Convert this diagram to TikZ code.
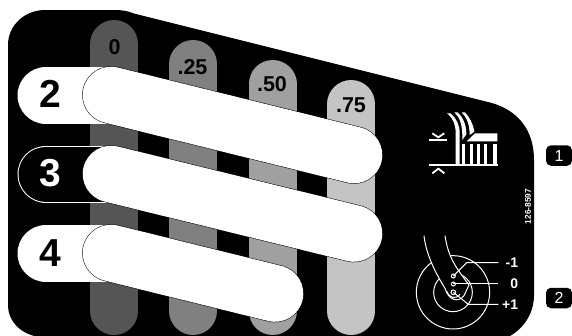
\documentclass[tikz,border=0pt]{standalone}
\usepackage{fontspec}
\setmainfont{Liberation Sans}
\definecolor{barA}{HTML}{555555}
\definecolor{barB}{HTML}{808080}
\definecolor{barC}{HTML}{A0A0A0}
\definecolor{barD}{HTML}{C4C4C4}
\tikzset{
  barshape/.style={line width=48pt,line cap=round},
  slant/.style={line width=56.6pt,line cap=round},
  slantedge/.style={line width=57.6pt,line cap=round,black},
  leftpill/.style={line width=57pt,line cap=round,white},
  barlabel/.style={font=\fontsize{21.5}{21.5}\selectfont\bfseries,text=black,inner sep=0pt},
  bignum/.style={font=\fontsize{39}{39}\selectfont\bfseries,inner sep=0pt},
  wheellabel/.style={font=\fontsize{14}{14}\selectfont\bfseries,text=white,inner sep=0pt,anchor=east},
  tag/.style={fill=black,rounded corners=5pt,minimum width=26pt,minimum height=20.5pt,inner sep=0pt,text=white,font=\fontsize{16}{16}\selectfont},
  wline/.style={draw=white,line width=1pt},
  wthick/.style={draw=white,line width=1.8pt},
}
\begin{document}
\begin{tikzpicture}[x=1pt,y=-1pt]
\useasboundingbox (0,0) rectangle (572,335);
\begin{scope}
\clip (0,0) rectangle (572,335);
% panel
\fill[black] (8,45) .. controls (8,25) and (25,10) .. (45,10) -- (115,10)
  .. controls (122,10) and (128,11) .. (134,13.5) -- (490,102.5)
  .. controls (518,110) and (534,130) .. (534,160) -- (534,295)
  .. controls (534,315) and (522,330) .. (508,337) -- (40,337)
  .. controls (22,335) and (8,322) .. (8,305) -- cycle;
% bars
\draw[barshape,barA] (114.3,44) -- (114.3,311);
\draw[barshape,barB] (193.2,64) -- (193.2,311);
\draw[barshape,barC] (272.5,84) -- (272.5,311);
\draw[barshape,barD] (351.3,104) -- (351.3,311);
\end{scope}
\node[barlabel] (l0) at (114.5,47.5) {0};
\node[barlabel] (l25) at (192.5,67.5) {.25};
\node[barlabel] (l50) at (272,84.5) {.50};
\node[barlabel] (l75) at (351,105) {.75};
% left pills
\draw[leftpill] (46,95.3) -- (110,95.3);
\draw[leftpill] (46,174) -- (110,174);
\draw[leftpill,black,line width=55pt] (46,174) -- (112,174);
\draw[leftpill] (46,253.4) -- (110,253.4);
\node[bignum,text=black] (n2) at (50.7,94) {2};
\node[bignum,text=white] (n3) at (50.7,173) {3};
\node[bignum,text=black] (n4) at (50.7,253.5) {4};
% slanted pills
\draw[slantedge] (111,95) -- (354,155);
\draw[slant,white] (111,95) -- (354,155);
\draw[slantedge] (111,174) -- (354,233.5);
\draw[slant,white] (111,174) -- (354,233.5);
\draw[slantedge] (111,253) -- (275,293.5);
\draw[slant,white] (111,253) -- (275,293.5);
% grass icon
\begin{scope}[shift={(425,105)},x=.3333pt,y=-.3333pt]
\draw[wthick] (12,180) -- (220,180);
\draw[wthick] (12,105) -- (65,105);
\draw[wthick] (22,85) -- (40,97) -- (58,85);
\draw[wthick] (22,205) -- (40,191) -- (58,205);
\fill[white] (66,25) .. controls (85,40) and (92,60) .. (92,85) -- (92,180) -- (104,180) -- (104,85) .. controls (104,60) and (95,40) .. (76,25) -- cycle;
\fill[white] (88,22) .. controls (105,38) and (113,60) .. (112,105) -- (124,88) .. controls (124,60) and (115,38) .. (98,22) -- cycle;
\fill[white] (110,22) .. controls (126,38) and (134,60) .. (134,90) -- (148,80) .. controls (144,55) and (134,38) .. (120,22) -- cycle;
\fill[white] (125,109) -- (150,85) -- (217,85) -- (217,109) -- cycle;
\foreach \xx in {112,134,156,178,205} \fill[white] (\xx,118) rectangle ++(9,62);
\fill[white] (205,118) rectangle (217,180);
\end{scope}
% wheel icon
\begin{scope}[shift={(400,205)},x=.3333pt,y=-.3333pt]
\draw[wline] (159,262) circle[radius=110];
\draw[wline] (159,262) circle[radius=58];
\draw[wline,fill=black] (72,92) .. controls (78,150) and (110,210) .. (135,250) .. controls (145,285) and (175,295) .. (192,272) -- (207,240) .. controls (170,190) and (145,160) .. (135,92);
\draw[wline] (140,258) .. controls (148,280) and (168,284) .. (180,268);
\draw[wline] (160,262) circle[radius=7];
\draw[wline] (160,237) circle[radius=6];
\draw[wline] (160,213) circle[radius=6];
\draw[wline] (160,213) -- (200,173) -- (295,173);
\draw[wline] (160,237) -- (295,237);
\draw[wline] (160,262) -- (205,298) -- (295,298);
\end{scope}
\node[wheellabel] (wm) at (518.3,262.5) {-1};
\node[wheellabel] (wz) at (518.3,283.5) {0};
\node[wheellabel] (wp) at (518.3,304.5) {+1};
\node[rotate=90,text=white,inner sep=0pt,font=\fontsize{8.3}{8.3}\selectfont\bfseries] (code) at (528,206.5) {126-8597};
\node[tag] (t1) at (559,155.5) {1};
\node[tag] (t2) at (559,298) {2};
\end{tikzpicture}
\end{document}
